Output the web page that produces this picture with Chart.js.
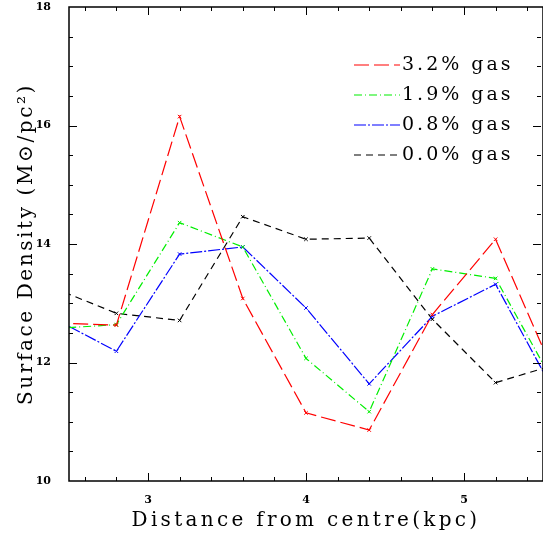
<!DOCTYPE html>
<html>
<head>
<meta charset="utf-8">
<script src="https://cdn.jsdelivr.net/npm/chart.js@4/dist/chart.umd.min.js"></script>
<style>
  html, body { margin: 0; padding: 0; background: #fff; }
  #wrap { width: 543px; height: 535px; }
</style>
</head>
<body>
<div id="wrap"><canvas id="chart"></canvas></div>
<script>
// distance from centre (kpc); first and last points sit just outside the axes
const distances = [2.4, 2.8, 3.2, 3.6, 4.0, 4.4, 4.8, 5.2, 5.6];
const gas32 = [12.67, 12.63, 16.15, 13.08, 11.15, 10.86, 12.81, 14.08, 11.63];
const gas19 = [12.57, 12.64, 14.36, 13.95, 12.07, 11.17, 13.58, 13.42, 11.50];
const gas08 = [12.75, 12.19, 13.83, 13.95, 12.92, 11.64, 12.78, 13.32, 11.36];
const gas00 = [13.26, 12.83, 12.71, 14.46, 14.08, 14.10, 12.73, 11.66, 11.98];

const seriesLabels = ["3.2% gas", "1.9% gas", "0.8% gas", "0.0% gas"];
const xTickLabels = [3, 4, 5];
const yTickLabels = [10, 12, 14, 16, 18];

const SERIF = "'DejaVu Serif', 'Liberation Serif', serif";

const toPoints = (vals) => vals.map((v, i) => ({ x: distances[i], y: v }));

const lineSet = (label, vals, color, dash) => ({
  label: label,
  data: toPoints(vals),
  borderColor: color,
  backgroundColor: color,
  borderWidth: 1.2,
  borderDash: dash,
  pointStyle: "crossRot",
  pointRadius: 2.5,
  pointBorderWidth: 1,
  tension: 0,
  fill: false
});

const noPadding = () => ({ left: 0, top: 0, right: 0, bottom: 0 });

// inward ticks on all four sides plus the frame
const frameTicks = {
  id: "frameTicks",
  afterDraw(chart) {
    const { ctx, chartArea: a, scales } = chart;
    const xs = scales.x, ys = scales.y;
    ctx.save();
    ctx.strokeStyle = "#000";
    ctx.lineWidth = 1.5;
    ctx.strokeRect(a.left, a.top, a.right - a.left, a.bottom - a.top);
    ctx.lineWidth = 1;
    ctx.beginPath();
    for (let v = 2.6; v < 5.5; v += 0.2) {
      const px = Math.round(xs.getPixelForValue(v)) + 0.5;
      const major = Math.abs(v - Math.round(v)) < 0.01;
      const len = major ? 8 : 4;
      ctx.moveTo(px, a.bottom); ctx.lineTo(px, a.bottom - len);
      ctx.moveTo(px, a.top); ctx.lineTo(px, a.top + len);
    }
    for (let v = 10.5; v < 18; v += 0.5) {
      const py = Math.round(ys.getPixelForValue(v)) + 0.5;
      const major = Math.abs(v - Math.round(v)) < 0.01 && Math.round(v) % 2 === 0;
      const len = major ? 8 : 4;
      ctx.moveTo(a.left, py); ctx.lineTo(a.left + len, py);
      ctx.moveTo(a.right - 2, py); ctx.lineTo(a.right - 2 - len, py);
    }
    ctx.stroke();
    ctx.restore();
  }
};

// axis titles and the legend inside the plot
const labelsAndLegend = {
  id: "labelsAndLegend",
  afterDraw(chart) {
    const { ctx, chartArea: a } = chart;
    ctx.save();
    ctx.fillStyle = "#000";
    ctx.textBaseline = "middle";
    ctx.textAlign = "center";
    ctx.letterSpacing = "3.3px";
    ctx.font = "20px " + SERIF;
    ctx.fillText("Distance from centre(kpc)", 306, 521);
    ctx.letterSpacing = "2.6px";
    ctx.translate(27, (a.top + a.bottom) / 2);
    ctx.rotate(-Math.PI / 2);
    ctx.fillText("Surface Density (M\u2299/pc\u00b2)", 0, 0);
    ctx.restore();

    ctx.save();
    ctx.font = "19px " + SERIF;
    ctx.letterSpacing = "3px";
    ctx.textBaseline = "middle";
    ctx.textAlign = "left";
    chart.data.datasets.forEach((ds, i) => {
      const y = 65 + i * 30;
      ctx.strokeStyle = ds.borderColor;
      ctx.lineWidth = 1.2;
      ctx.setLineDash(ds.borderDash);
      ctx.beginPath();
      ctx.moveTo(354, y);
      ctx.lineTo(400, y);
      ctx.stroke();
      ctx.setLineDash([]);
      ctx.fillStyle = "#000";
      ctx.fillText(ds.label, 402, y);
    });
    ctx.restore();
  }
};

new Chart(document.getElementById("chart").getContext("2d"), {
  type: "line",
  data: {
    datasets: [
      lineSet(seriesLabels[0], gas32, "#ff0000", [15, 5]),
      lineSet(seriesLabels[1], gas19, "#00ee00", [8, 3, 1, 3]),
      lineSet(seriesLabels[2], gas08, "#0000ff", [12, 2, 2, 2]),
      lineSet(seriesLabels[3], gas00, "#000000", [7, 5])
    ]
  },
  options: {
    responsive: true,
    maintainAspectRatio: false,
    animation: false,
    layout: { autoPadding: false, padding: { top: 7, right: -1, left: 0, bottom: 0 } },
    plugins: { legend: { display: false }, tooltip: { enabled: false } },
    scales: {
      x: {
        type: "linear",
        min: 2.5,
        max: 5.5,
        grid: { display: false },
        border: { display: false },
        afterFit: (s) => { s.height = 54; s.getPadding = noPadding; },
        afterBuildTicks: (s) => { s.ticks = xTickLabels.map((v) => ({ value: v })); },
        ticks: {
          padding: 5,
          maxRotation: 0,
          color: "#000",
          font: { family: SERIF, size: 11, weight: "bold" }
        }
      },
      y: {
        type: "linear",
        min: 10,
        max: 18,
        grid: { display: false },
        border: { display: false },
        afterFit: (s) => { s.width = 69; s.getPadding = noPadding; },
        afterBuildTicks: (s) => { s.ticks = yTickLabels.map((v) => ({ value: v })); },
        ticks: {
          padding: 10,
          color: "#000",
          font: { family: SERIF, size: 11, weight: "bold" }
        }
      }
    }
  },
  plugins: [frameTicks, labelsAndLegend]
});
</script>
</body>
</html>
